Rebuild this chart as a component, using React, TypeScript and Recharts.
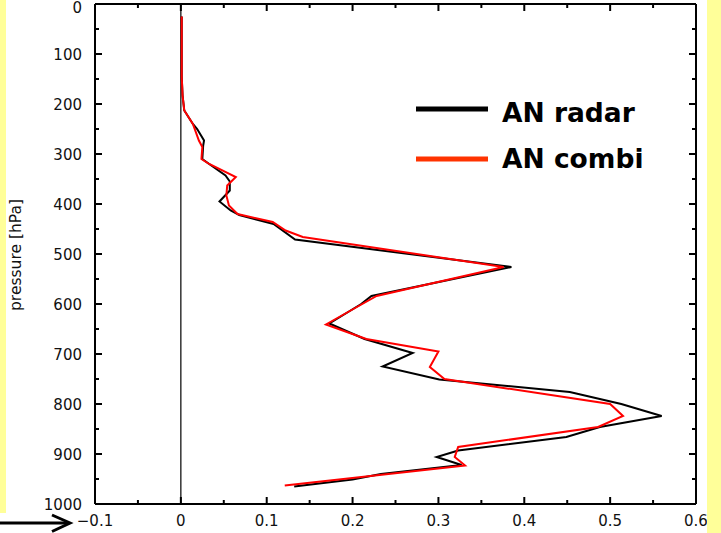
import React from 'react';
import { ScatterChart, Scatter, XAxis, YAxis, ReferenceLine } from 'recharts';

// Vertical profiles: pressure levels [hPa] and the matching values
const radarPressure = [25, 145, 183, 213, 240, 250, 273, 283, 310, 320, 343, 355, 373, 395, 413, 422, 440, 471, 526, 584, 600, 639, 670, 698, 725, 751, 776, 800, 824, 846, 866, 893, 906, 922, 940, 951, 965];
const radarValue = [0.001, 0.001, 0.002, 0.004, 0.014, 0.019, 0.027, 0.026, 0.025, 0.033, 0.052, 0.057, 0.057, 0.045, 0.058, 0.068, 0.108, 0.133, 0.385, 0.222, 0.21, 0.173, 0.214, 0.27, 0.235, 0.301, 0.453, 0.513, 0.56, 0.488, 0.449, 0.323, 0.298, 0.327, 0.233, 0.2, 0.132];

const combiPressure = [25, 145, 183, 213, 240, 273, 286, 310, 320, 346, 363, 383, 403, 420, 436, 453, 466, 526, 584, 607, 641, 670, 695, 726, 750, 800, 824, 846, 886, 906, 923, 963];
const combiValue = [0.001, 0.001, 0.002, 0.004, 0.014, 0.021, 0.025, 0.024, 0.033, 0.064, 0.054, 0.053, 0.056, 0.066, 0.107, 0.122, 0.142, 0.376, 0.228, 0.204, 0.169, 0.216, 0.3, 0.29, 0.307, 0.5, 0.515, 0.486, 0.323, 0.319, 0.331, 0.121];

const seriesNames = ['AN radar', 'AN combi'];
const seriesColors = ['#000000', '#ff0000'];
const legendColors = ['#000000', '#ff3300'];

const pressureTicks = [0, 50, 100, 150, 200, 250, 300, 350, 400, 450, 500, 550, 600, 650, 700, 750, 800, 850, 900, 950, 1000];
const valueTicks = [-0.1, -0.05, 0, 0.05, 0.1, 0.15, 0.2, 0.25, 0.3, 0.35, 0.4, 0.45, 0.5, 0.55, 0.6];

const FONT = '"DejaVu Sans", "Liberation Sans", Arial, sans-serif';

const toPoints = (p: number[], v: number[]) => p.map((pp, i) => ({ p: pp, v: v[i] }));
const radarData = toPoints(radarPressure, radarValue);
const combiData = toPoints(combiPressure, combiValue);

const isMajorPressure = (v: number) => Math.abs(v / 100 - Math.round(v / 100)) < 1e-6;
const isMajorValue = (v: number) => Math.abs(v * 10 - Math.round(v * 10)) < 1e-6;
const fmtValue = (v: number) => {
  const r = Math.round(v * 10) / 10;
  return r < 0 ? '\u2212' + String(-r) : String(r);
};

const MAJOR = 7;
const MINOR = 4;

const BottomTick = (props: any) => {
  const { x, y, payload } = props;
  const major = isMajorValue(payload.value);
  return (
    <g>
      <line x1={x} y1={y} x2={x} y2={y - (major ? MAJOR : MINOR)} stroke="#000" strokeWidth={2} />
      {major && (
        <text x={x} y={y + 22} textAnchor="middle" fontSize={15} fontFamily={FONT} fill="#111">
          {fmtValue(payload.value)}
        </text>
      )}
    </g>
  );
};

const TopTick = (props: any) => {
  const { x, y, payload } = props;
  const major = isMajorValue(payload.value);
  return <line x1={x} y1={y} x2={x} y2={y + (major ? MAJOR : MINOR)} stroke="#000" strokeWidth={2} />;
};

const LeftTick = (props: any) => {
  const { x, y, payload } = props;
  const major = isMajorPressure(payload.value);
  return (
    <g>
      <line x1={x} y1={y} x2={x + (major ? MAJOR : MINOR)} y2={y} stroke="#000" strokeWidth={2} />
      {major && (
        <text x={x - 13} y={Math.max(y + 5.5, 13)} textAnchor="end" fontSize={15} fontFamily={FONT} fill="#111">
          {payload.value}
        </text>
      )}
    </g>
  );
};

const RightTick = (props: any) => {
  const { x, y, payload } = props;
  const major = isMajorPressure(payload.value);
  return <line x1={x} y1={y} x2={x - (major ? MAJOR : MINOR)} y2={y} stroke="#000" strokeWidth={2} />;
};

const PressureLabel = () => (
  <text x={21} y={255} transform="rotate(-90 21 255)" textAnchor="middle" fontSize={15.5} fontFamily={FONT} fill="#111">
    pressure [hPa]
  </text>
);

const noPoint = () => <g />;

const axisStroke = { stroke: '#000', strokeWidth: 2 };

export default function App() {
  return (
    <div style={{ position: 'absolute', left: 0, top: 0, width: 721, height: 533, background: '#ffffff', overflow: 'hidden' }}>
      <ScatterChart width={721} height={533} margin={{ top: 3, right: 24, bottom: 0, left: 35 }}>
        <XAxis
          xAxisId="b"
          type="number"
          dataKey="v"
          domain={[-0.1, 0.6]}
          ticks={valueTicks}
          allowDataOverflow
          orientation="bottom"
          height={29}
          tickSize={0}
          tickMargin={0}
          tickLine={false}
          axisLine={axisStroke}
          tick={<BottomTick />}
          interval={0}
        />
        <XAxis
          xAxisId="t"
          type="number"
          dataKey="v"
          domain={[-0.1, 0.6]}
          ticks={valueTicks}
          allowDataOverflow
          orientation="top"
          height={1}
          tickSize={0}
          tickMargin={0}
          tickLine={false}
          axisLine={axisStroke}
          tick={<TopTick />}
          interval={0}
        />
        <YAxis
          yAxisId="l"
          type="number"
          dataKey="p"
          domain={[0, 1000]}
          ticks={pressureTicks}
          reversed
          allowDataOverflow
          orientation="left"
          width={60}
          tickSize={0}
          tickMargin={0}
          tickLine={false}
          axisLine={axisStroke}
          tick={<LeftTick />}
          interval={0}
          label={<PressureLabel />}
        />
        <YAxis
          yAxisId="r"
          type="number"
          dataKey="p"
          domain={[0, 1000]}
          ticks={pressureTicks}
          reversed
          allowDataOverflow
          orientation="right"
          width={1}
          tickSize={0}
          tickMargin={0}
          tickLine={false}
          axisLine={axisStroke}
          tick={<RightTick />}
          interval={0}
        />
        <ReferenceLine xAxisId="b" yAxisId="l" x={0} stroke="#000" strokeWidth={1.2} />
        <Scatter
          xAxisId="b"
          yAxisId="l"
          name={seriesNames[0]}
          data={radarData}
          line={{ stroke: seriesColors[0], strokeWidth: 2 }}
          lineType="joint"
          shape={noPoint}
          isAnimationActive={false}
        />
        <Scatter
          xAxisId="b"
          yAxisId="l"
          name={seriesNames[1]}
          data={combiData}
          line={{ stroke: seriesColors[1], strokeWidth: 2 }}
          lineType="joint"
          shape={noPoint}
          isAnimationActive={false}
        />
      </ScatterChart>

      {/* legend */}
      <svg width={721} height={533} style={{ position: 'absolute', left: 0, top: 0, pointerEvents: 'none' }}>
        {seriesNames.map((name, i) => (
          <g key={name}>
            <line x1={416} x2={488} y1={109 + i * 50} y2={109 + i * 50} stroke={legendColors[i]} strokeWidth={5} />
            <text x={502} y={121.5 + i * 46} fontSize={26.5} fontWeight="bold" fontFamily={FONT} fill="#000">
              {name}
            </text>
          </g>
        ))}
        {/* arrow at lower left */}
        <line x1={0} y1={523} x2={69} y2={523} stroke="#000" strokeWidth={3} />
        <polyline points="52,515 70,523 52,531.5" fill="none" stroke="#000" strokeWidth={3} />
      </svg>

      {/* side bands */}
      <div style={{ position: 'absolute', left: 0, top: 0, width: 6, height: 513, background: '#ffff99' }} />
      <div style={{ position: 'absolute', left: 707, top: 0, width: 14, height: 533, background: '#ffff99' }} />
    </div>
  );
}
